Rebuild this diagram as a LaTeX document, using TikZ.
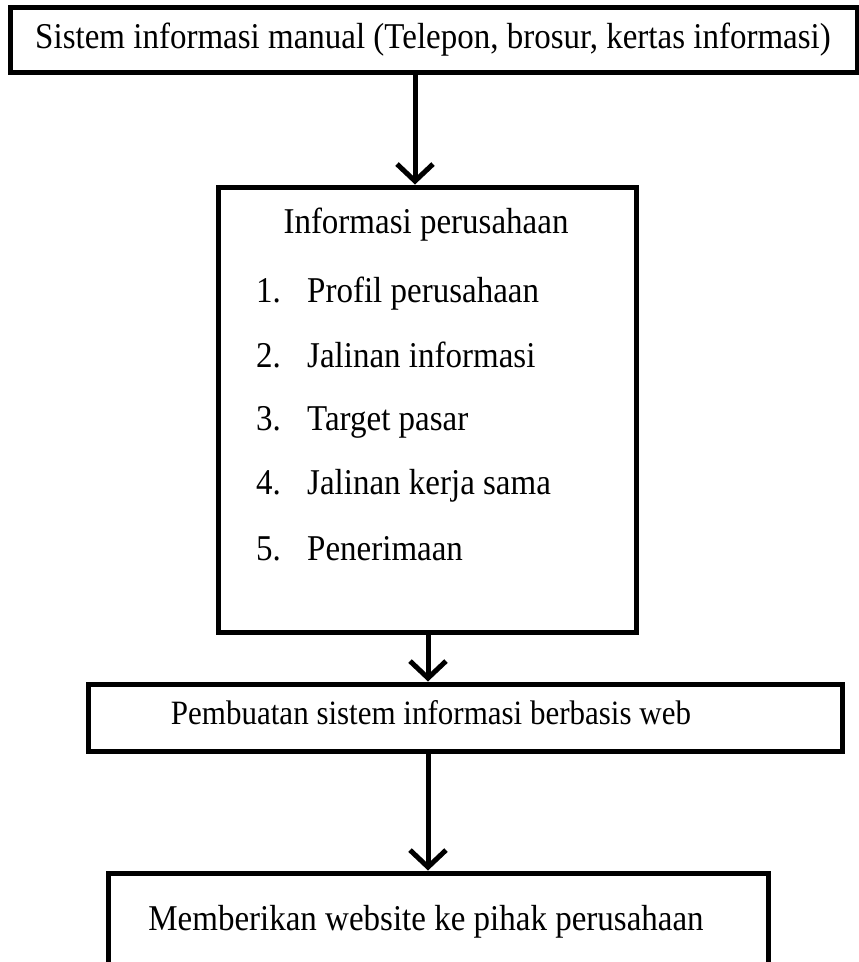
\documentclass[tikz,border=0pt]{standalone}
\usepackage{fontspec}
\setmainfont{Liberation Serif}
\usetikzlibrary{arrows.meta}
\newcommand{\tallt}[1]{\scalebox{1}[1.1]{#1}}
\tikzset{
  boxnode/.style={draw, line width=5pt, rectangle, inner sep=0pt},
  txt/.style={inner sep=0pt, font=\fontsize{33}{38}\selectfont},
  item/.style={txt, anchor=base west},
  arr/.style={line width=5pt, -{Straight Barb[length=17pt,width=36pt]}},
}
\begin{document}
\begin{tikzpicture}[x=1pt,y=-1pt]
\clip (0,0) rectangle (859,962);
\fill[white] (0,0) rectangle (859,962);
% boxes
\node[boxnode, minimum width=847pt, minimum height=65pt] (top) at (433.5,39.5) {};
\node[boxnode, minimum width=418pt, minimum height=445pt] (mid) at (427,409.5) {};
\node[boxnode, minimum width=754pt, minimum height=67pt] (web) at (465,717.5) {};
\node[boxnode, minimum width=660pt, minimum height=160pt] (give) at (438,953) {};
% texts
\node[txt] (t1) at (433,40) {\tallt{Sistem informasi manual (Telepon, brosur, kertas informasi)}};
\node[txt] (t2) at (426,225) {\tallt{Informasi perusahaan}};
\node[item] (n1) at (256,302) {\tallt{1.}};
\node[item] (i1) at (307,302) {\tallt{Profil perusahaan}};
\node[item] (n2) at (256,367) {\tallt{2.}};
\node[item] (i2) at (307,367) {\tallt{Jalinan informasi}};
\node[item] (n3) at (256,430) {\tallt{3.}};
\node[item] (i3) at (307,430) {\tallt{Target pasar}};
\node[item] (n4) at (256,494) {\tallt{4.}};
\node[item] (i4) at (307,494) {\tallt{Jalinan kerja sama}};
\node[item] (n5) at (256,560) {\tallt{5.}};
\node[item] (i5) at (307,560) {\tallt{Penerimaan}};
\node[txt, font=\fontsize{31}{36}\selectfont] (t3) at (431,713) {\tallt{Pembuatan sistem informasi berbasis web}};
\node[txt] (t4) at (426,922) {\tallt{Memberikan website ke pihak perusahaan}};
% arrow columns
\coordinate (c1) at (415,0);
\coordinate (c2) at (428,0);
\draw[arr] (top.south -| c1) -- (mid.north -| c1);
\draw[arr] (mid.south -| c2) -- (web.north -| c2);
\draw[arr] (web.south -| c2) -- (give.north -| c2);
\end{tikzpicture}
\end{document}
